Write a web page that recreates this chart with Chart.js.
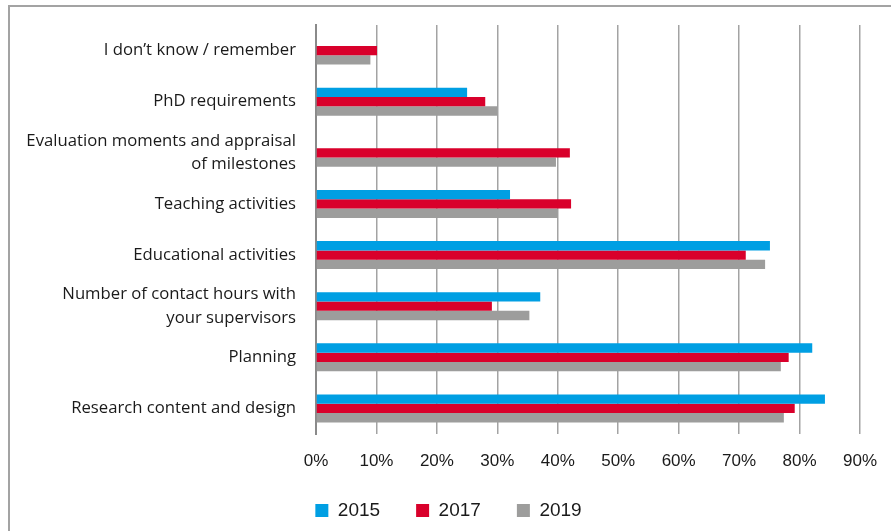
<!DOCTYPE html>
<html>
<head>
<meta charset="utf-8">
<script src="https://cdn.jsdelivr.net/npm/chart.js@4"></script>
<style>
  html, body { margin: 0; padding: 0; background: #fff; }
  #wrap { position: relative; width: 891px; height: 531px; overflow: hidden; }
  #frame { position: absolute; left: 8px; top: 5px; width: 900px; height: 560px;
           border: 2px solid #a3a3a3; box-sizing: border-box; }
  canvas { position: absolute; left: 0; top: 0; }
</style>
</head>
<body>
<div id="wrap">
  <div id="frame"></div>
  <canvas id="c" width="891" height="531"></canvas>
</div>
<script>
// Topics covered, top to bottom
const categories = [
  "I don’t know / remember",
  "PhD requirements",
  ["Evaluation moments and appraisal", "of milestones"],
  "Teaching activities",
  "Educational activities",
  ["Number of contact hours with", "your supervisors"],
  "Planning",
  "Research content and design"
];
// Share of respondents (%) per survey year
const values2015 = [null, 25, null, 32.1, 75.1, 37.1, 82.1, 84.2];
const values2017 = [10.1, 28.0, 42.0, 42.2, 71.1, 29.1, 78.2, 79.2];
const values2019 = [9.0, 30.0, 39.7, 40.0, 74.3, 35.3, 76.9, 77.4];
const years = ["2015", "2017", "2019"];
const xTicks = [0, 10, 20, 30, 40, 50, 60, 70, 80, 90];

const colors = ["#009fe3", "#d9002b", "#9d9d9c"];

// Lift the legend row a little closer to the axis labels
const legendNudge = {
  id: "legendNudge",
  afterLayout(chart) {
    const l = chart.legend;
    if (l) { l.top -= 7; l.bottom -= 7; }
  }
};

new Chart(document.getElementById("c"), {
  type: "bar",
  data: {
    labels: categories,
    datasets: [values2015, values2017, values2019].map((d, i) => ({
      label: years[i],
      data: d,
      backgroundColor: colors[i],
      borderWidth: 0,
      categoryPercentage: 0.55,
      barPercentage: 1.0
    }))
  },
  plugins: [legendNudge],
  options: {
    indexAxis: "y",
    responsive: false,
    animation: false,
    layout: { padding: { top: 25, right: 0, left: 6, bottom: 0 } },
    scales: {
      x: {
        min: 0, max: 90,
        afterBuildTicks: (s) => { s.ticks = xTicks.map(v => ({ value: v })); },
        ticks: {
          callback: (v) => v + "%",
          color: "#1a1a1a",
          font: { family: "Liberation Sans", size: 17 },
          padding: 17,
          maxRotation: 0
        },
        grid: { color: "#a3a3a3", lineWidth: 1.5, drawTicks: false },
        border: { display: false },
        afterFit: (s) => { s.height = 38; s.paddingRight = 31; s.paddingLeft = 0; }
      },
      y: {
        ticks: {
          color: "#1a1a1a",
          font: { family: "Open Sans", size: 16.7, lineHeight: 1.4 },
          padding: 20
        },
        grid: { display: false, drawTicks: false },
        border: { display: true, color: "#8a8a8a", width: 2 },
        afterFit: (s) => { s.width = 310; s.paddingTop = 0; s.paddingBottom = 0; }
      }
    },
    plugins: {
      legend: {
        position: "bottom",
        maxHeight: 59,
        labels: {
          boxWidth: 13, boxHeight: 13,
          padding: 36,
          color: "#1a1a1a",
          font: { family: "Liberation Sans", size: 19 }
        }
      },
      tooltip: { enabled: false }
    }
  }
});
</script>
</body>
</html>
